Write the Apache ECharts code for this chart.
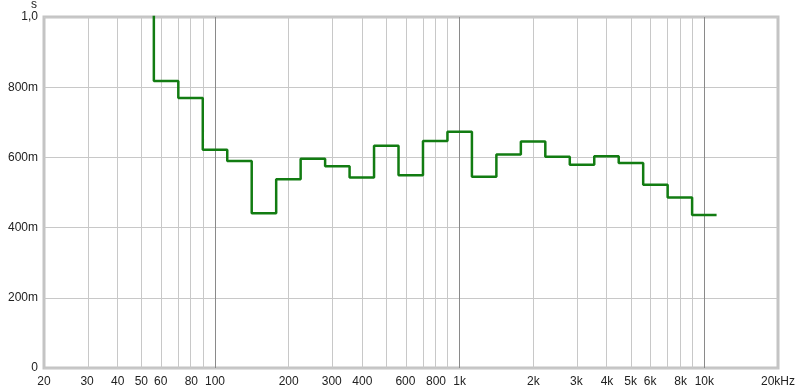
<!DOCTYPE html>
<html>
<head>
<meta charset="utf-8">
<script src="https://cdn.jsdelivr.net/npm/echarts@6.0.0/dist/echarts.min.js"></script>
<style>
html,body{margin:0;padding:0;background:#fff;}
#chart{width:800px;height:390px;}
</style>
</head>
<body>
<div id="chart"></div>
<script>
// Third-octave band centres (nominal, Hz) and exponent index k (f = 1000*10^(k/10))
var bandCenters = [50,63,80,100,125,160,200,250,315,400,500,630,800,1000,1250,1600,2000,2500,3150,4000,5000,6300,8000,10000];
var bandIndex   = [-13,-12,-11,-10,-9,-8,-7,-6,-5,-4,-3,-2,-1,0,1,2,3,4,5,6,7,8,9,10];
// Reverberation time per band (s); the 50 Hz band is above the visible range
var rtValues = [1.25,0.818,0.769,0.622,0.590,0.441,0.538,0.596,0.575,0.543,0.633,0.549,0.647,0.673,0.545,0.608,0.645,0.602,0.579,0.603,0.584,0.522,0.486,0.436];

// Axis labels
var xTickFreqs  = [20,30,40,50,60,80,100,200,300,400,600,800,1000,2000,3000,4000,5000,6000,8000,10000,20000];
var xTickLabels = ['20','30','40','50','60','80','100','200','300','400','600','800','1k','2k','3k','4k','5k','6k','8k','10k','20kHz'];
var minorGridFreqs = [30,40,50,60,70,80,90,200,300,400,500,600,700,800,900,2000,3000,4000,5000,6000,7000,8000,9000];
var majorGridFreqs = [100,1000,10000];
var yTicks = [0,0.2,0.4,0.6,0.8,1.0];
var yTickLabels = ['0','200m','400m','600m','800m','1,0'];

var lg = Math.log10;
var stepData = [];
for (var i = 0; i < bandIndex.length; i++) {
  var lo = 1000 * Math.pow(10, (bandIndex[i] - 0.5) / 10);
  var hi = 1000 * Math.pow(10, (bandIndex[i] + 0.5) / 10);
  stepData.push([lg(lo), rtValues[i]]);
  stepData.push([lg(hi), rtValues[i]]);
}

var gridLines = [];
minorGridFreqs.forEach(function(f){ gridLines.push({xAxis: lg(f), lineStyle:{color:'#c8c8c8', width:1, type:'solid'}}); });
majorGridFreqs.forEach(function(f){ gridLines.push({xAxis: lg(f), lineStyle:{color:'#8a8a8a', width:1, type:'solid'}}); });

var chart = echarts.init(document.getElementById('chart'), null, {renderer:'canvas'});
chart.setOption({
  animation: false,
  backgroundColor: '#ffffff',
  textStyle: {fontFamily: 'Liberation Sans'},
  grid: {left:44, right:22, top:17, bottom:22, show:true, backgroundColor:'#ffffff', borderColor:'#c4c4c4', borderWidth:3},
  graphic: [{type:'text', left:31, top:-1, style:{text:'s', font:'12px "Liberation Sans"', fill:'#222'}}],
  xAxis: {
    type:'value', min: lg(20), max: lg(20000),
    axisLine:{show:false}, axisTick:{show:false}, splitLine:{show:false},
    axisLabel:{
      customValues: xTickFreqs.map(function(f){return lg(f);}),
      margin: 8, color:'#222', fontSize:12, fontFamily:'Liberation Sans', hideOverlap:false,
      showMinLabel:true, showMaxLabel:true,
      formatter: function(v){
        var best = 0, bd = 1e9;
        for (var j = 0; j < xTickFreqs.length; j++) { var d = Math.abs(lg(xTickFreqs[j]) - v); if (d < bd) { bd = d; best = j; } }
        return xTickLabels[best];
      }
    }
  },
  yAxis: {
    type:'value', min:0, max:1, interval:0.2,
    axisLine:{show:false}, axisTick:{show:false},
    splitLine:{show:true, lineStyle:{color:'#c8c8c8', width:1}},
    axisLabel:{
      margin: 6, color:'#222', fontSize:12, fontFamily:'Liberation Sans',
      showMinLabel:true, showMaxLabel:true,
      formatter: function(v){
        for (var j = 0; j < yTicks.length; j++) { if (Math.abs(yTicks[j] - v) < 1e-6) return yTickLabels[j]; }
        return '';
      }
    }
  },
  series: [
    {
      type:'line', data:[], silent:true, z:1,
      markLine:{silent:true, symbol:['none','none'], label:{show:false}, animation:false, data: gridLines}
    },
    {
      type:'line', data: stepData, showSymbol:false, symbol:'none', clip:true, z:5,
      lineStyle:{color:'#127c12', width:2.5},
      itemStyle:{color:'#127c12'}
    }
  ]
});
</script>
</body>
</html>
